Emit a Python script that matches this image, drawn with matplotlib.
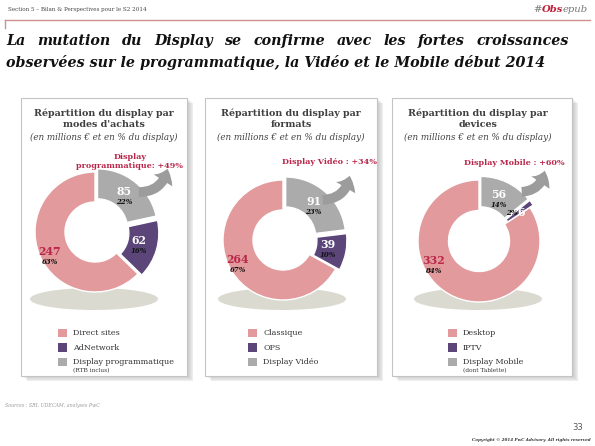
import matplotlib
matplotlib.use("Agg")
import matplotlib.pyplot as plt
from matplotlib.patches import Rectangle, Ellipse, FancyArrowPatch
import numpy as np

# --- data ---
achats_labels = ["Direct sites", "AdNetwork", "Display programmatique"]
achats_values = [247, 62, 85]
achats_pct = [63, 16, 22]

formats_labels = ["Classique", "OPS", "Display Vidéo"]
formats_values = [264, 39, 91]
formats_pct = [67, 10, 23]

devices_labels = ["Desktop", "IPTV", "Display Mobile"]
devices_values = [332, 6, 56]
devices_pct = [84, 2, 14]

panel_titles = ["Répartition du display par\nmodes d'achats",
                "Répartition du display par\nformats",
                "Répartition du display par\ndevices"]
growth_labels = ["Display\nprogrammatique: +49%",
                 "Display Vidéo : +34%",
                 "Display Mobile : +60%"]
legend_notes = ["(RTB inclus)", None, "(dont Tablette)"]

colors = ["#E29A9C", "#5B4579", "#ABABAB"]
RED = "#B8274A"
SERIF = "DejaVu Serif"

W, H = 595, 446
fig = plt.figure(figsize=(W / 100, H / 100), dpi=100)
ax = fig.add_axes([0, 0, 1, 1])


def Y(y):
    return H - y


# header
ax.text(8, Y(9), "Section 5 – Bilan & Perspectives pour le S2 2014", fontsize=4.1,
        family=SERIF, color="#444444", va="center")
ax.plot([5, 590], [Y(20), Y(20)], color="#CF8F8F", lw=1.0)
ax.plot([5, 5], [Y(20), Y(28)], color="#CF8F8F", lw=1.0)

fig.canvas.draw()
rend = fig.canvas.get_renderer()


def text_width(t):
    return t.get_window_extent(rend).width


# "#Obsepub" in mixed styles, right aligned
parts = [("#", "#777777", "normal"), ("Obs", "#C0203A", "bold"), ("epub", "#777777", "normal")]
objs = []
for s, c, w in parts:
    objs.append(ax.text(0, Y(9), s, fontsize=7.2, family=SERIF, style="italic",
                        weight=w, color=c, va="center"))
total = sum(text_width(o) for o in objs)
x = 588 - total
for o in objs:
    o.set_x(x)
    x += text_width(o)

# title: first line justified, second line left
title_l1 = "La mutation du Display se confirme avec les fortes croissances"
title_l2 = "observées sur le programmatique, la Vidéo et le Mobile début 2014"
tkw = dict(fontsize=10.3, family=SERIF, style="italic", weight="bold", color="#111111", va="center")
words = title_l1.split()
wobjs = [ax.text(0, Y(41), w_, **tkw) for w_ in words]
widths = [text_width(o) for o in wobjs]
gap = (569 - 6 - sum(widths)) / (len(words) - 1)
x = 6
for o, wd in zip(wobjs, widths):
    o.set_x(x)
    x += wd + gap
ax.text(6, Y(62), title_l2, **tkw)

# panels
panels = [
    dict(x0=21, x1=187, cx=95, cy=232, r=60, tx=104, lx=62,
         labels=achats_labels, values=achats_values, pct=achats_pct,
         gy=(155, 168), gx=130, arrow=((136, 192), (168, 166))),
    dict(x0=205, x1=377, cx=283, cy=240, r=60, tx=291, lx=252,
         labels=formats_labels, values=formats_values, pct=formats_pct,
         gy=(162,), gx=329, arrow=((320, 200), (350, 173))),
    dict(x0=392, x1=572, cx=479, cy=241, r=61, tx=478, lx=452,
         labels=devices_labels, values=devices_values, pct=devices_pct,
         gy=(163,), gx=514, arrow=((519, 192), (545, 168))),
]

for i, p in enumerate(panels):
    x0, x1 = p["x0"], p["x1"]
    top, bot = 98, 376
    # soft shadow
    for k in range(7):
        ax.add_patch(Rectangle((x0 + 1 + k * 0.9, Y(bot) - k * 0.9), x1 - x0, bot - top,
                               facecolor="#555555", alpha=0.05, edgecolor="none", zorder=1))
    ax.add_patch(Rectangle((x0, Y(bot)), x1 - x0, bot - top, facecolor="white",
                           edgecolor="#C4C4C4", lw=0.8, zorder=2))

    # titles
    ax.text(p["tx"], Y(118.5), panel_titles[i], ha="center", va="center", fontsize=6.8,
            family=SERIF, weight="bold", color="#3F3F3F", linespacing=1.3, zorder=5)
    ax.text(p["tx"], Y(137.5), "(en millions € et en % du display)", ha="center", va="center",
            fontsize=6.3, family=SERIF, style="italic", color="#444444", zorder=5)

    # shadow ellipse under donut
    ax.add_patch(Ellipse((p["cx"] - 1, Y(299)), 128, 22, facecolor="#DADAD0",
                         edgecolor="none", zorder=3))

    r = p["r"]
    ring = r * 0.5
    wedges, _ = ax.pie(p["values"], center=(p["cx"], Y(p["cy"])), radius=r, startangle=90,
                       counterclock=True, colors=colors, explode=[0, 4, 4],
                       wedgeprops=dict(width=ring, edgecolor="white", linewidth=1.0))
    for wdg in wedges:
        wdg.set_zorder(4)

    # value / share labels placed from the wedge geometry
    for j, wdg in enumerate(wedges):
        if j == 0:
            th = np.deg2rad(208)
            rr = r - ring * 0.3
        else:
            th = np.deg2rad((wdg.theta1 + wdg.theta2) / 2)
            rr = r - ring * 0.6
        lx = wdg.center[0] + rr * np.cos(th)
        ly = wdg.center[1] + rr * np.sin(th)
        vcol = RED if j == 0 else "white"
        if p["pct"][j] < 5:
            ax.text(lx + 4, ly + 1, str(p["values"][j]), ha="center", va="center", fontsize=7.8,
                    family=SERIF, weight="bold", color=vcol, zorder=6)
            ax.text(lx - 5, ly, f"{p['pct'][j]}%", ha="center", va="center", fontsize=5,
                    family=SERIF, weight="bold", style="italic", color="#111111", zorder=6)
        else:
            ax.text(lx, ly + 4.5, str(p["values"][j]), ha="center", va="center", fontsize=7.8,
                    family=SERIF, weight="bold", color=vcol, zorder=6)
            ax.text(lx, ly - 6, f"{p['pct'][j]}%", ha="center", va="center", fontsize=5,
                    family=SERIF, weight="bold", style="italic", color="#111111", zorder=6)

    # growth annotation + arrow
    gy = p["gy"][0] if len(p["gy"]) == 1 else sum(p["gy"]) / 2
    ax.text(p["gx"], Y(gy), growth_labels[i], ha="center", va="center", fontsize=5.8,
            family=SERIF, weight="bold", color=RED, linespacing=1.25, zorder=6)
    (ax_, ay_), (bx_, by_) = p["arrow"]
    ax.add_patch(FancyArrowPatch((ax_, Y(ay_)), (bx_, Y(by_)),
                                 arrowstyle="simple,head_length=9,head_width=16,tail_width=7",
                                 connectionstyle="arc3,rad=0.45", color="#9C9C9C",
                                 lw=0, zorder=5))

    # legend
    for j, lab in enumerate(p["labels"]):
        yy = 333 + j * 14.5
        ax.add_patch(Rectangle((p["lx"] - 4, Y(yy) - 4), 8.5, 8.5, facecolor=colors[j],
                               edgecolor="none", zorder=5))
        ax.text(p["lx"] + 11, Y(yy), lab, va="center", fontsize=5.8, family=SERIF,
                color="#333333", zorder=6)
    if legend_notes[i]:
        ax.text(p["lx"] + 11, Y(371), legend_notes[i], va="center", fontsize=4.2,
                family=SERIF, color="#333333", zorder=6)

# footer
ax.text(5, Y(405), "Sources : SRI, UDECAM, analyses PwC", fontsize=3.4, family=SERIF,
        style="italic", color="#999999", va="center")
ax.text(578, Y(428), "33", fontsize=6, family="DejaVu Sans", color="#555555",
        va="center", ha="center")
ax.text(591, Y(440), "Copyright © 2014 PwC Advisory. All rights reserved", fontsize=3.0,
        family=SERIF, style="italic", weight="bold", color="#333333", va="center", ha="right")

ax.set_xlim(0, W)
ax.set_ylim(0, H)
ax.set_aspect("auto")
ax.axis("off")
fig.savefig("out.png", dpi=100, facecolor="white")
